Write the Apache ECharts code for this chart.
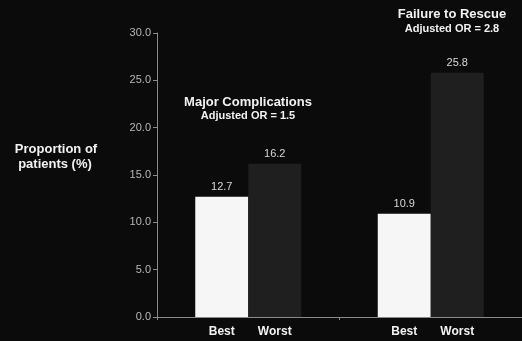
<!DOCTYPE html>
<html>
<head>
<meta charset="utf-8">
<script src="https://cdn.jsdelivr.net/npm/echarts@6/dist/echarts.min.js"></script>
<style>
  html, body { margin: 0; padding: 0; background: #0b0b0b; }
  #chart { width: 522px; height: 341px; }
</style>
</head>
<body>
<div id="chart"></div>
<script>
// Outcome groups and hospital arms
const groups = ['Major Complications', 'Failure to Rescue'];
const groupNotes = ['Adjusted OR = 1.5', 'Adjusted OR = 2.8'];
const arms = ['Best', 'Worst'];
const bestValues = [12.7, 10.9];
const worstValues = [16.2, 25.8];
const yTicks = [0, 5, 10, 15, 20, 25, 30];
const yLabelLines = ['Proportion of', 'patients (%)'];

const FONT = '"Liberation Sans", Arial, sans-serif';
const chart = echarts.init(document.getElementById('chart'));

const valueLabel = {
  show: true,
  position: 'top',
  distance: 4,
  color: '#d8d8d8',
  fontSize: 11,
  fontFamily: FONT,
  formatter: p => p.value.toFixed(1)
};

const option = {
  backgroundColor: '#0b0b0b',
  animation: false,
  grid: { left: 157, top: 33, bottom: 24, width: 370 },
  xAxis: {
    type: 'category',
    data: groups,
    axisLine: { lineStyle: { color: '#8a8a8a', width: 1 } },
    axisTick: { show: true, length: 3, lineStyle: { color: '#8a8a8a' } },
    axisLabel: {
      margin: 9,
      formatter: () => '{a|' + arms[0] + '}{b|' + arms[1] + '}',
      rich: {
        a: { width: 53, align: 'center', color: '#f2f2f2', fontWeight: 'bold', fontSize: 12, fontFamily: FONT },
        b: { width: 53, align: 'center', color: '#f2f2f2', fontWeight: 'bold', fontSize: 12, fontFamily: FONT }
      }
    }
  },
  yAxis: {
    type: 'value',
    min: yTicks[0],
    max: yTicks[yTicks.length - 1],
    interval: yTicks[1] - yTicks[0],
    splitLine: { show: false },
    axisLine: { show: true, lineStyle: { color: '#8a8a8a', width: 1 } },
    axisTick: { show: true, length: 4, lineStyle: { color: '#8a8a8a' } },
    axisLabel: {
      color: '#b8b8b8',
      fontSize: 11,
      fontFamily: FONT,
      margin: 6,
      formatter: v => v.toFixed(1)
    }
  },
  series: [
    {
      name: arms[0],
      type: 'bar',
      data: bestValues,
      barWidth: 53,
      barGap: '0%',
      itemStyle: { color: '#f6f6f6' },
      label: valueLabel
    },
    {
      name: arms[1],
      type: 'bar',
      data: worstValues,
      barWidth: 53,
      barGap: '0%',
      itemStyle: { color: '#1f1f1f' },
      label: valueLabel
    }
  ],
  graphic: [
    { type: 'text', x: 248, y: 102, style: { text: groups[0], fill: '#f2f2f2', font: 'bold 13px ' + FONT, textAlign: 'center', textVerticalAlign: 'middle' } },
    { type: 'text', x: 248, y: 116, style: { text: groupNotes[0], fill: '#f2f2f2', font: 'bold 11px ' + FONT, textAlign: 'center', textVerticalAlign: 'middle' } },
    { type: 'text', x: 452, y: 14, style: { text: groups[1], fill: '#f2f2f2', font: 'bold 13px ' + FONT, textAlign: 'center', textVerticalAlign: 'middle' } },
    { type: 'text', x: 452, y: 29, style: { text: groupNotes[1], fill: '#f2f2f2', font: 'bold 11px ' + FONT, textAlign: 'center', textVerticalAlign: 'middle' } },
    { type: 'text', x: 56, y: 149, style: { text: yLabelLines[0], fill: '#f2f2f2', font: 'bold 13px ' + FONT, textAlign: 'center', textVerticalAlign: 'middle' } },
    { type: 'text', x: 55, y: 164, style: { text: yLabelLines[1], fill: '#f2f2f2', font: 'bold 13px ' + FONT, textAlign: 'center', textVerticalAlign: 'middle' } }
  ]
};

chart.setOption(option);
</script>
</body>
</html>
